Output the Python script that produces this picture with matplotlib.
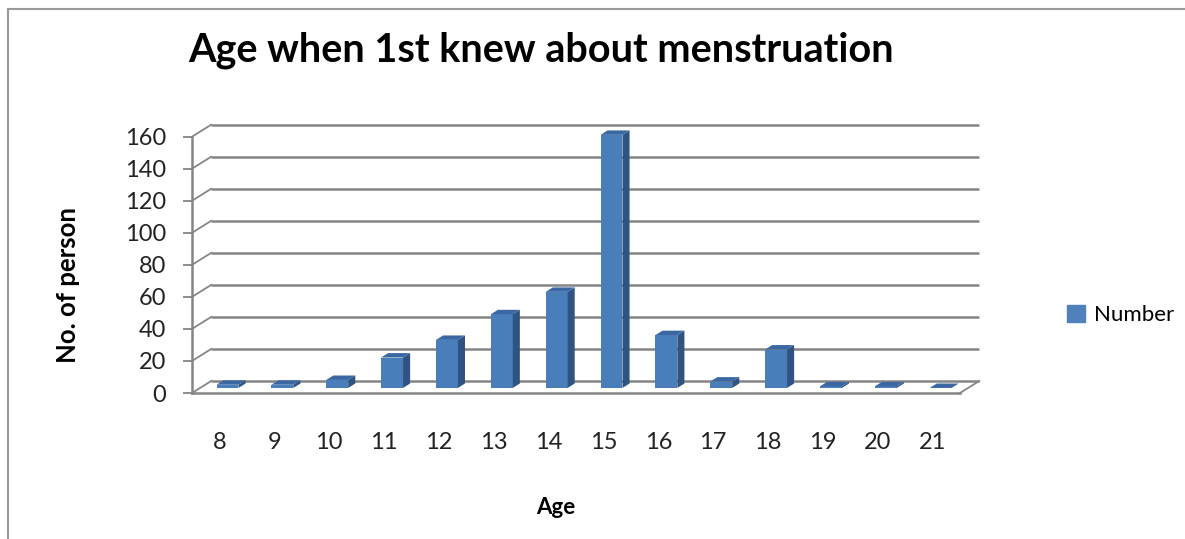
import matplotlib.pyplot as plt
from matplotlib.lines import Line2D
from matplotlib.patches import Patch

# -----------------------------
# Data
# -----------------------------
ages = [str(a) for a in range(8, 22)]
counts = [2, 2, 5, 19, 30, 46, 60, 158, 33, 4, 24, 1, 1, 0]
yticks = list(range(0, 161, 20))

plt.rcParams["font.family"] = ["Lato", "DejaVu Sans"]

W, H = 1185, 539
fig = plt.figure(figsize=(W / 100, H / 100), dpi=100)
ax = fig.add_axes([192 / W, 1 - 393 / H, 768 / W, (393 - 136.7) / H])
ax.set_xlim(0, len(ages))
ax.set_ylim(0, 160)

# fake 3d box: depth offset of the back wall in data units
dx, dy = 0.35, 7.5
front, thick = 0.42, 0.37   # where the bars sit in the depth, and how deep they are
bw = 0.4
grid_col = "#858585"

# back wall gridlines + left wall diagonals
for y in yticks:
    ax.plot([dx, len(ages) + dx], [y + dy, y + dy], color=grid_col, lw=1.8,
            clip_on=False, zorder=1, solid_capstyle="butt")
    ax.plot([0, dx], [y, y + dy], color=grid_col, lw=1.3, clip_on=False, zorder=1)

# floor front edge and right edge
ax.plot([0, len(ages)], [0, 0], color=grid_col, lw=1.8, clip_on=False, zorder=1)
ax.plot([len(ages), len(ages) + dx], [0, dy], color=grid_col, lw=1.3, clip_on=False, zorder=1)

# -----------------------------
# Bars
# -----------------------------
c_front = "#4a7ebb"
c_side = "#2f5482"
c_top = "#3b68a3"
for i, v in enumerate(counts):
    x0 = i + 0.5 - bw / 2 + front * dx
    x1 = x0 + bw
    y0 = front * dy
    top = y0 + v
    ox, oy = thick * dx, thick * dy
    ax.fill([x0, x1, x1, x0], [y0, y0, top, top], color=c_front, zorder=3, clip_on=False, lw=0)
    ax.fill([x1, x1 + ox, x1 + ox, x1], [y0, y0 + oy, top + oy, top],
            color=c_side, zorder=3, clip_on=False, lw=0)
    ax.fill([x0, x1, x1 + ox, x0 + ox], [top, top, top + oy, top + oy],
            color=c_top, zorder=3, clip_on=False, lw=0)

# -----------------------------
# Axes styling
# -----------------------------
for s in ["top", "right", "bottom"]:
    ax.spines[s].set_visible(False)
ax.spines["left"].set_color(grid_col)
ax.spines["left"].set_linewidth(1.8)
ax.set_yticks(yticks)
ax.set_yticklabels([str(y) for y in yticks], fontsize=17, color="#222222")
ax.tick_params(axis="y", length=6.5, width=1.3, color=grid_col, pad=12)
ax.set_xticks([i + 0.5 for i in range(len(ages))])
ax.set_xticklabels(ages, fontsize=17, color="#222222")
ax.tick_params(axis="x", length=0, pad=28)
ax.patch.set_visible(False)

fig.text(541 / W, 1 - 50 / H, "Age when 1st knew about menstruation",
         fontsize=28.5, fontweight="bold", ha="center", va="center")
fig.text(68 / W, 1 - 285 / H, "No. of person", fontsize=18.5, fontweight="bold",
         rotation=90, ha="center", va="center")
fig.text(556 / W, 1 - 508 / H, "Age", fontsize=16, fontweight="bold",
         ha="center", va="center")

fig.legend(handles=[Patch(facecolor="#4f81bd", edgecolor="#4f81bd", label="Number")],
           loc="center left", bbox_to_anchor=(1047 / W, 1 - 315 / H), frameon=False,
           fontsize=16, handlelength=0.8, handleheight=0.8, handletextpad=0.4)

# outer chart frame (only top/left visible in the crop)
fig.add_artist(Line2D([8 / W, 1], [1 - 9 / H, 1 - 9 / H], transform=fig.transFigure,
                      color="#999999", lw=1.5))
fig.add_artist(Line2D([8 / W, 8 / W], [0, 1 - 9 / H], transform=fig.transFigure,
                      color="#999999", lw=1.5))

fig.savefig("out.png", dpi=100)
